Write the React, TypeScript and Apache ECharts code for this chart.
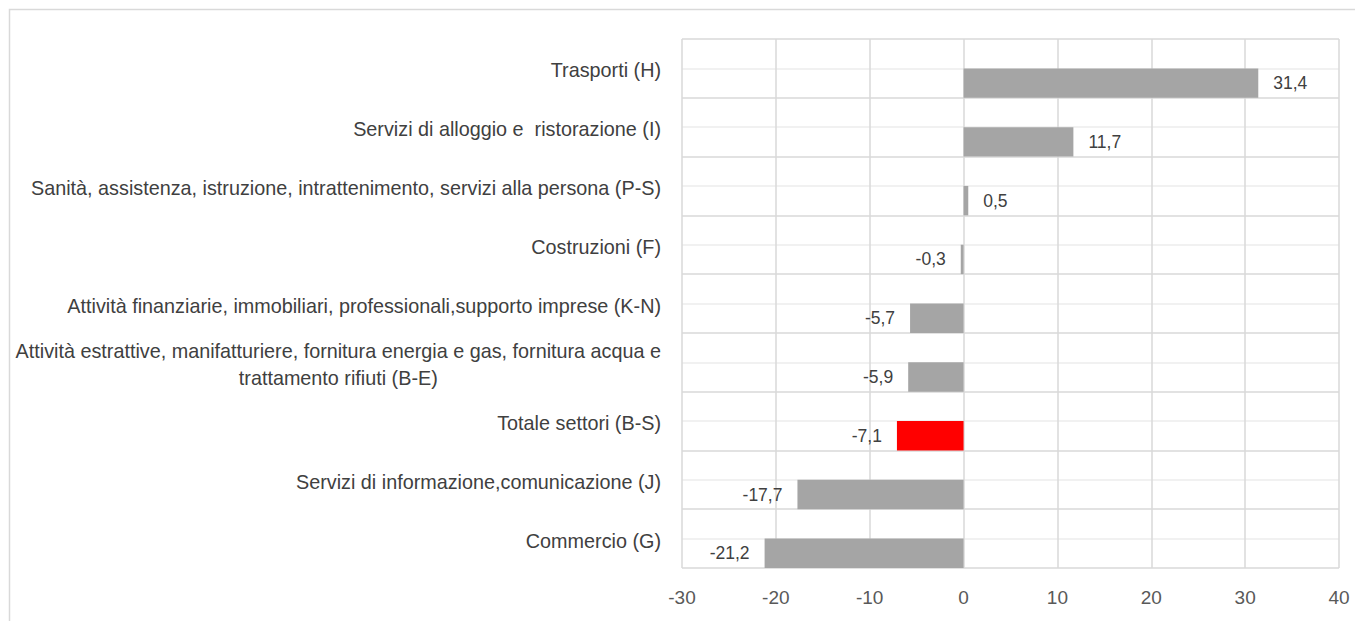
import React, { useEffect, useRef } from "react";
import * as echarts from "echarts";

const categories = [
  "Trasporti (H)",
  "Servizi di alloggio e  ristorazione (I)",
  "Sanità, assistenza, istruzione, intrattenimento, servizi alla persona (P-S)",
  "Costruzioni (F)",
  "Attività finanziarie, immobiliari, professionali,supporto imprese (K-N)",
  "Attività estrattive, manifatturiere, fornitura energia e gas, fornitura acqua e\ntrattamento rifiuti (B-E)",
  "Totale settori (B-S)",
  "Servizi di informazione,comunicazione (J)",
  "Commercio (G)",
];

const values = [31.4, 11.7, 0.5, -0.3, -5.7, -5.9, -7.1, -17.7, -21.2];
const highlightCategory = "Totale settori (B-S)";
const xTicks = { min: -30, max: 40, interval: 10 };

const FONT = '"Liberation Sans", Arial, sans-serif';

export default function App() {
  const ref = useRef<HTMLDivElement>(null);
  useEffect(() => {
    if (!ref.current) return;
    const chart = echarts.init(ref.current, null, { renderer: "svg" });
    const halfSlots = Array.from({ length: categories.length * 2 }, (_, i) => "s" + i);
    chart.setOption({
      animation: false,
      grid: {
        left: 682,
        right: 16,
        top: 39,
        bottom: 53,
        containLabel: false,
        outerBoundsMode: "none",
      },
      xAxis: {
        type: "value",
        min: xTicks.min,
        max: xTicks.max,
        interval: xTicks.interval,
        axisLine: { show: false },
        axisTick: { show: false },
        axisLabel: { color: "#595959", fontSize: 19, fontFamily: FONT, margin: 20 },
        splitLine: { show: true, lineStyle: { color: "#d9d9d9", width: 1.5 } },
      },
      yAxis: [
        {
          type: "category",
          data: categories,
          inverse: true,
          axisLine: { show: false },
          axisTick: { show: false },
          splitLine: { show: false },
          axisLabel: {
            color: "#404040",
            fontSize: 19.8,
            fontFamily: FONT,
            margin: 21,
            padding: [4, 0, 0, 0],
            formatter: (v: string) =>
              v
                .split("\n")
                .map((l) => "{c|" + l + "}")
                .join("\n"),
            rich: {
              c: { align: "center", fontSize: 19.8, fontFamily: FONT, color: "#404040", lineHeight: 27 },
            },
          },
        },
        {
          type: "category",
          data: halfSlots,
          inverse: true,
          position: "left",
          axisLine: { show: false },
          axisTick: { show: false },
          axisLabel: { show: false },
          splitLine: { show: true, lineStyle: { color: ["#d9d9d9", "#ececec"], width: 1.5 } },
        },
      ],
      series: [
        {
          type: "bar",
          yAxisIndex: 0,
          data: categories.map(() => null),
          barGap: "0%",
          barCategoryGap: "0%",
          silent: true,
        },
        {
          type: "bar",
          yAxisIndex: 0,
          barGap: "0%",
          barCategoryGap: "0%",
          data: values.map((v, i) => ({
            value: v,
            itemStyle: { color: categories[i] === highlightCategory ? "#ff0000" : "#a5a5a5" },
            label: { position: v >= 0 ? "right" : "left" },
          })),
          label: {
            show: true,
            distance: 15,
            color: "#404040",
            fontSize: 17.5,
            fontFamily: FONT,
            padding: [2, 0, 0, 0],
            formatter: (p: any) => String(p.value).replace(".", ","),
          },
        },
      ],
      graphic: [
        {
          type: "rect",
          shape: { x: 9.5, y: 9.5, width: 2000, height: 2000 },
          style: { fill: "none", stroke: "#d9d9d9", lineWidth: 1.5 },
          silent: true,
        },
      ],
    });
    return () => chart.dispose();
  }, []);
  return (
    <div
      ref={ref}
      style={{ position: "fixed", left: 0, top: 0, width: 1355, height: 621, background: "#fff" }}
    />
  );
}
